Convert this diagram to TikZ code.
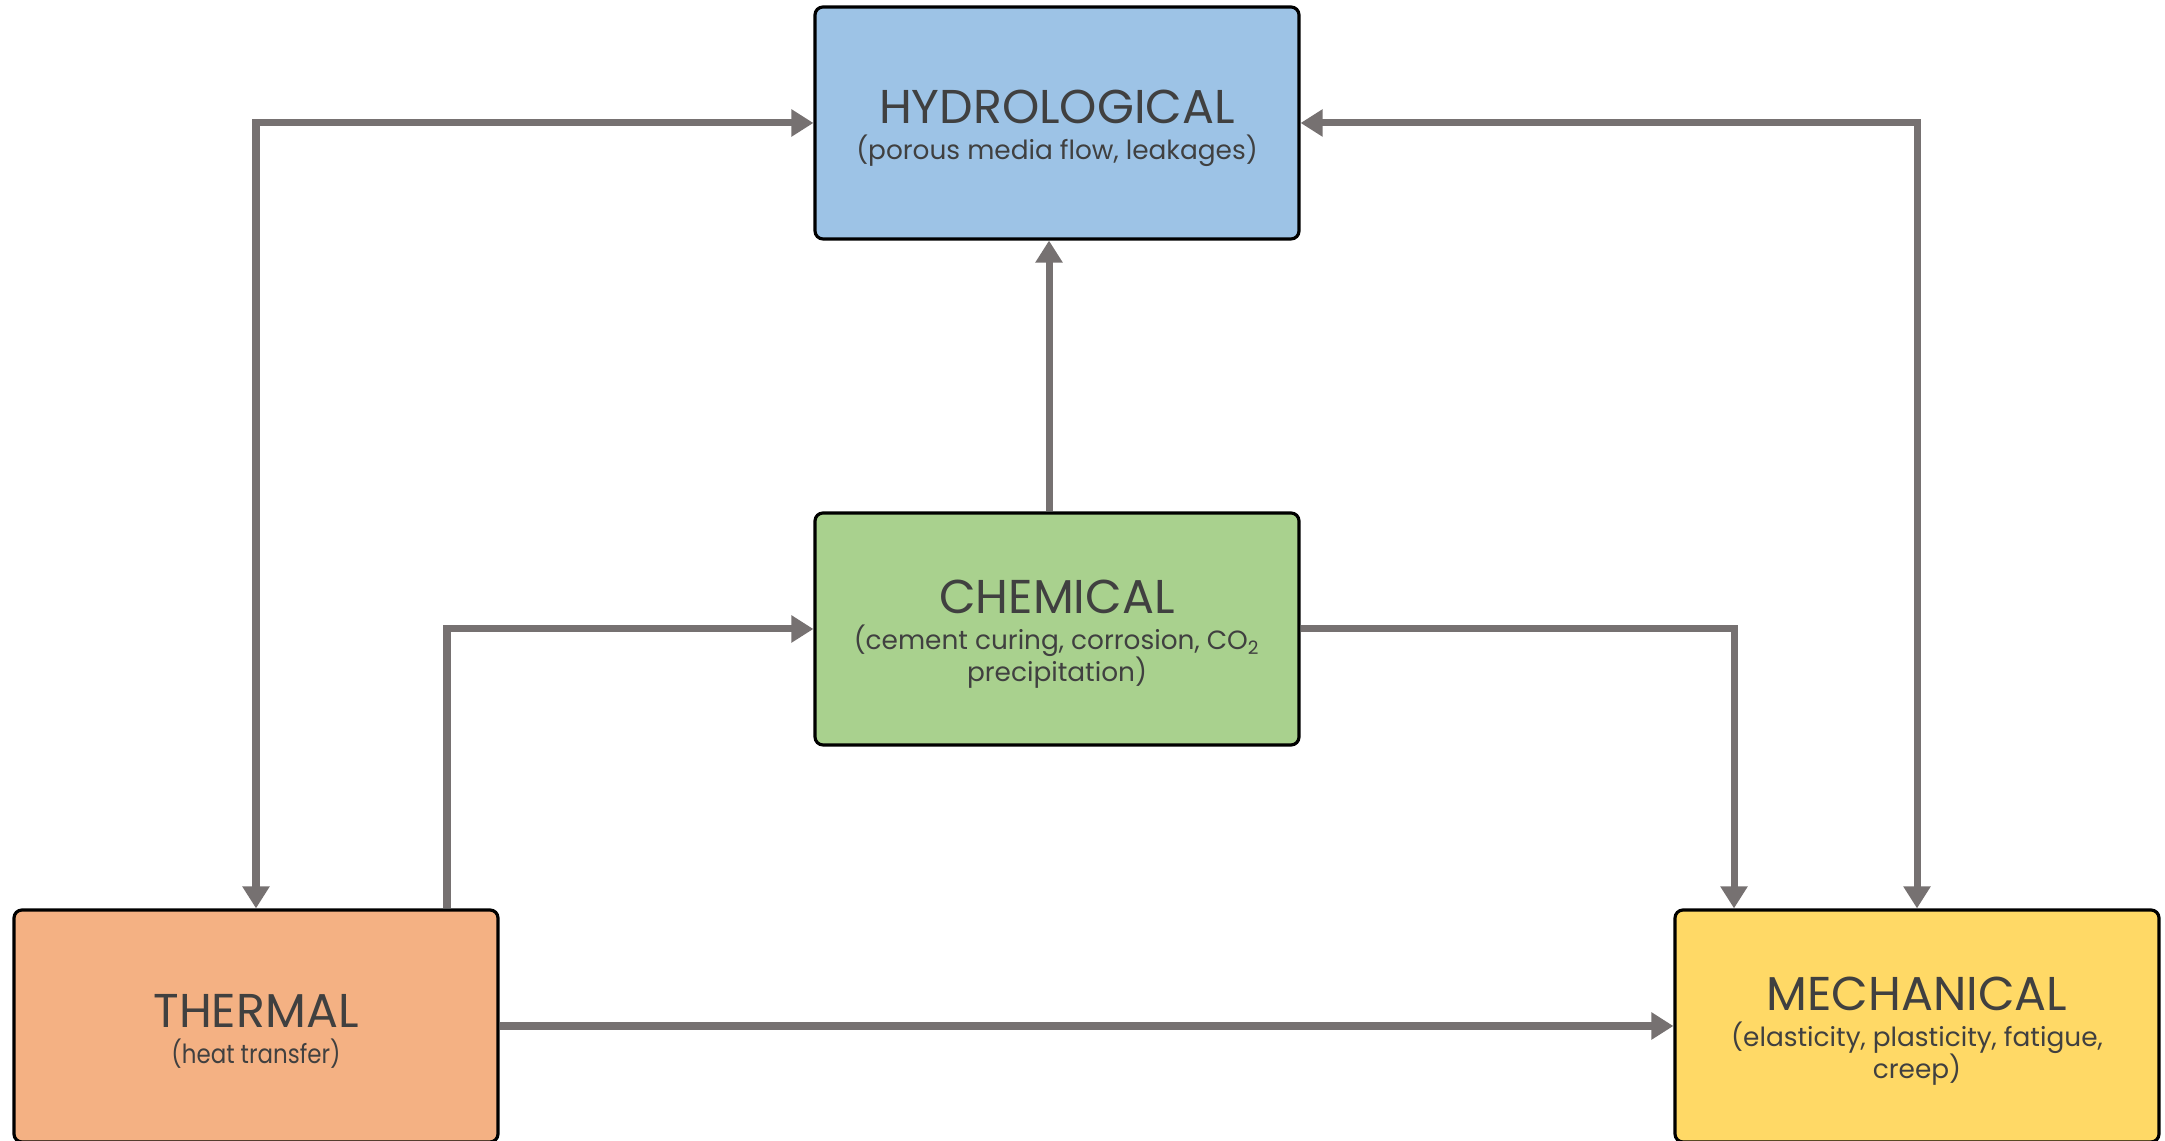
\documentclass[tikz,border=0pt]{standalone}
\usepackage{fontspec}
\usepackage{graphicx}
\setmainfont{Poppins}
\usetikzlibrary{arrows.meta}
\definecolor{hydblue}{HTML}{9DC3E6}
\definecolor{chemgreen}{HTML}{A9D18E}
\definecolor{thermorange}{HTML}{F4B183}
\definecolor{mechyellow}{HTML}{FFD966}
\definecolor{linkgray}{HTML}{767171}
\definecolor{txtgray}{HTML}{404040}
\newcommand{\ttl}{\fontsize{13.5}{15}\selectfont\rule{0pt}{12.6pt}}
\newcommand{\sub}{\fontsize{7.5}{9.1}\selectfont}
\begin{document}
\begin{tikzpicture}[box/.style={draw=black, line width=0.9pt, rounded corners=0.8mm, minimum width=4.84cm, minimum height=2.32cm, align=center, text=txtgray, font=\sub, inner sep=0pt}, link/.style={draw=linkgray, line width=2pt, -{Triangle[length=2.2mm,width=2.6mm]}}, duallink/.style={link, {Triangle[length=2.2mm,width=2.6mm]}-{Triangle[length=2.2mm,width=2.6mm]}}]
			\useasboundingbox (0,0) rectangle (21.65,11.41);
			\node[box, fill=hydblue] (hyd) at (10.57, 10.18) {\ttl HYDROLOGICAL\\[1pt] (porous media flow, leakages)};
			\node[box, fill=chemgreen] (chem) at (10.57, 5.12) {\ttl CHEMICAL\\[1pt] (cement curing, corrosion, CO\textsubscript{2}\\ precipitation)};
			\node[box, fill=thermorange] (therm) at (2.56, 1.15) {\ttl THERMAL\\[1pt] \scalebox{0.87}[1]{(heat transfer)}};
			\node[box, fill=mechyellow] (mech) at (19.17, 1.15) {\ttl MECHANICAL\\[1pt] (elasticity, plasticity, fatigue,\\ creep)};
			\draw[duallink] (therm.north) |- (hyd.west);
			\draw[duallink] (mech.north) |- (hyd.east);
			\draw[link] ([xshift=-0.08cm]chem.north) -- ([xshift=-0.08cm]hyd.south);
			\draw[link] ([xshift=1.91cm]therm.north) |- (chem.west);
			\draw[link] (chem.east) -| ([xshift=-1.83cm]mech.north);
			\draw[link] (therm.east) -- (mech.west);
		\end{tikzpicture}
\end{document}
